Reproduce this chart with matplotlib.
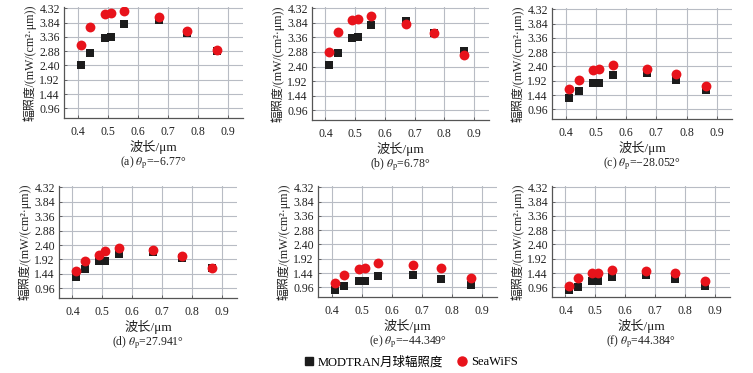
import matplotlib
matplotlib.use("Agg")
import matplotlib.pyplot as plt
from matplotlib.lines import Line2D

plt.rcParams['font.family'] = ['Liberation Serif', 'Noto Sans CJK SC', 'DejaVu Sans']
plt.rcParams['mathtext.fontset'] = 'stix'

wavelengths = [0.412, 0.443, 0.490, 0.510, 0.555, 0.670, 0.765, 0.865]

modtran_a = [2.42, 2.83, 3.31, 3.36, 3.78, 3.91, 3.50, 2.90]
seawifs_a = [3.08, 3.68, 4.14, 4.15, 4.23, 4.01, 3.56, 2.92]
modtran_b = [2.44, 2.83, 3.33, 3.37, 3.77, 3.90, 3.50, 2.91]
seawifs_b = [2.89, 3.54, 3.93, 3.97, 4.05, 3.80, 3.50, 2.77]
modtran_c = [1.34, 1.58, 1.84, 1.86, 2.10, 2.17, 1.95, 1.61]
seawifs_c = [1.65, 1.95, 2.29, 2.33, 2.45, 2.32, 2.15, 1.75]
modtran_d = [1.35, 1.59, 1.86, 1.88, 2.11, 2.17, 1.96, 1.62]
seawifs_d = [1.54, 1.88, 2.07, 2.19, 2.29, 2.23, 2.04, 1.65]
modtran_e = [0.87, 1.01, 1.17, 1.18, 1.33, 1.37, 1.24, 1.03]
seawifs_e = [1.12, 1.39, 1.59, 1.61, 1.78, 1.71, 1.60, 1.29]
modtran_f = [0.87, 0.98, 1.17, 1.18, 1.32, 1.37, 1.24, 1.00]
seawifs_f = [1.02, 1.27, 1.43, 1.45, 1.54, 1.52, 1.45, 1.17]

captions = [r"(a) $\theta_\mathrm{p}$=−6.77°", r"(b) $\theta_\mathrm{p}$=6.78°",
            r"(c) $\theta_\mathrm{p}$=−28.052°", r"(d) $\theta_\mathrm{p}$=27.941°",
            r"(e) $\theta_\mathrm{p}$=−44.349°", r"(f) $\theta_\mathrm{p}$=44.384°"]
modtran = [modtran_a, modtran_b, modtran_c, modtran_d, modtran_e, modtran_f]
seawifs = [seawifs_a, seawifs_b, seawifs_c, seawifs_d, seawifs_e, seawifs_f]

yticks = [0.96, 1.44, 1.92, 2.40, 2.88, 3.36, 3.84, 4.32]
xticks = [0.4, 0.5, 0.6, 0.7, 0.8, 0.9]

W, H = 753, 373
fig = plt.figure(figsize=(W / 100, H / 100), dpi=100)

# axes boxes in pixels: left, top, right, bottom
boxes = [(64, 7, 243, 118), (312, 7, 489, 120), (552, 8, 732, 119),
         (59, 186, 237, 298), (318, 186, 497, 297), (552, 186, 730, 297)]

for i, (l, t, r, b) in enumerate(boxes):
    ax = fig.add_axes([l / W, 1 - b / H, (r - l) / W, (b - t) / H])
    ax.set_xlim(0.355, 0.95)
    ax.set_ylim(0.64, 4.36)
    ax.set_xticks(xticks)
    ax.set_yticks(yticks)
    ax.set_xticklabels([f"{v:.1f}" for v in xticks])
    ax.set_yticklabels([f"{v:.2f}" for v in yticks])
    ax.grid(True, color='#b8bcc4', linewidth=0.8)
    ax.set_axisbelow(True)
    for s in ['top', 'right']:
        ax.spines[s].set_visible(False)
    for s in ['left', 'bottom']:
        ax.spines[s].set_color('#555555')
        ax.spines[s].set_linewidth(0.9)
    ax.tick_params(axis='both', direction='in', length=2, width=0.6, colors='#555555',
                   labelcolor='#222222', labelsize=8.5)
    ax.tick_params(axis='x', pad=6)
    ax.tick_params(axis='y', pad=3)
    ax.scatter(wavelengths, modtran[i], marker='s', s=40, color='#1c1c1c', zorder=3, linewidths=0)
    ax.scatter(wavelengths, seawifs[i], marker='o', s=50, color='#e8131b', zorder=4, linewidths=0)
    ax.set_xlabel("波长/μm", fontsize=9.5, labelpad=1, color='#222222')
    ax.set_ylabel("辐照度/(mW/(cm²·μm))", fontsize=8.6, labelpad=2, color='#222222')
    cx = (l + r) / 2 / W
    fig.text(cx, 1 - (b + 45) / H, captions[i], ha='center', va='center', fontsize=8.5,
             color='#222222')

handles = [Line2D([], [], marker='s', linestyle='none', color='#1c1c1c', markersize=6),
           Line2D([], [], marker='o', linestyle='none', color='#e8131b', markersize=6.5)]
fig.legend(handles, ["MODTRAN月球辐照度", "SeaWiFS"], loc='center', bbox_to_anchor=(0.545, 1 - 362 / H),
           ncol=2, frameon=False, fontsize=9, handletextpad=0.2, columnspacing=1.0,
           handlelength=1.0, borderpad=0)

fig.savefig("out.png", dpi=100)
